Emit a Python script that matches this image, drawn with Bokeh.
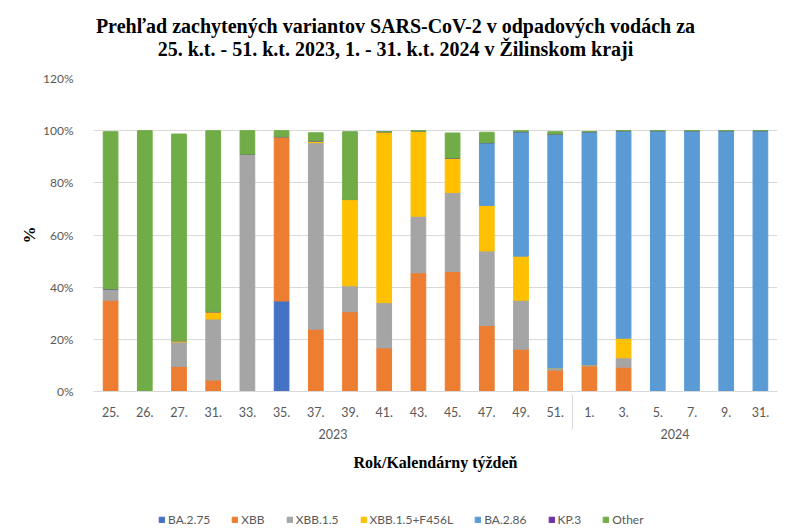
from bokeh.plotting import figure
from bokeh.layouts import column
from bokeh.models import (FactorRange, ColumnDataSource, FixedTicker, PrintfTickFormatter,
                          Legend, LegendItem, Range1d, Label)
from bokeh.embed import file_html
from bokeh.resources import INLINE

# ---- data (percent of detected variants) ----
years = ["2023"] * 14 + ["2024"] * 6
weeks = ["25.", "26.", "27.", "31.", "33.", "35.", "37.", "39.", "41.", "43.", "45.", "47.", "49.", "51.",
         "1.", "3.", "5.", "7.", "9.", "31."]
series_names = ["BA.2.75", "XBB", "XBB.1.5", "XBB.1.5+F456L", "BA.2.86", "KP.3", "Other"]
ba275 = [0, 0, 0, 0, 0, 34.7, 0, 0, 0, 0, 0, 0, 0, 0, 0, 0, 0, 0, 0, 0]
xbb = [35.0, 0, 9.6, 4.4, 0, 63.0, 23.9, 30.6, 16.7, 45.5, 46.0, 25.3, 16.2, 8.2, 9.8, 9.3, 0, 0, 0, 0]
xbb15 = [4.3, 0, 9.4, 23.4, 91.0, 0, 71.5, 9.9, 17.4, 21.7, 30.3, 28.6, 18.8, 0.8, 0.4, 3.6, 0, 0, 0, 0]
xbb15_f456l = [0, 0, 0.5, 2.8, 0, 0, 0.7, 33.1, 65.5, 32.6, 13.2, 17.4, 16.9, 0, 0, 7.5, 0, 0, 0, 0]
ba286 = [0, 0, 0, 0, 0, 0, 0, 0, 0, 0, 0, 24.1, 47.7, 89.7, 89.4, 79.6, 100, 100, 100, 100]
kp3 = [0] * 20
other = [60.3, 100, 79.2, 69.4, 9.0, 2.3, 3.1, 26.0, 0, 0.2, 9.6, 4.0, 0.4, 0.9, 0, 0, 0, 0, 0, 0]
y_ticks = [0, 20, 40, 60, 80, 100, 120]
title_lines = ["Prehľad zachytených variantov   SARS-CoV-2 v odpadových vodách za",
               "25. k.t.  - 51. k.t. 2023, 1.  - 31. k.t. 2024 v Žilinskom kraji"]

colors = ["#4472C4", "#ED7D31", "#A5A5A5", "#FFC000", "#5B9BD5", "#7030A0", "#70AD47"]

factors = list(zip(years, weeks))
keys = ["s0", "s1", "s2", "s3", "s4", "s5", "s6"]
source = ColumnDataSource(dict(x=factors, s0=ba275, s1=xbb, s2=xbb15, s3=xbb15_f456l,
                               s4=ba286, s5=kp3, s6=other))

# ---------- title strip (frame is aligned with the chart frame, left edge at 93px) ----------
tf = figure(width=800, height=66, x_range=Range1d(0, 1), y_range=Range1d(0, 1),
            output_backend="svg", toolbar_location=None, x_axis_type=None, y_axis_type=None,
            min_border=0)
tf.outline_line_color = None
tf.grid.visible = False
for txt, ypos in zip(title_lines, [41, 18]):
    tf.add_layout(Label(x=307, y=ypos, x_units="screen", y_units="screen", text=txt,
                        text_align="center", text_baseline="middle",
                        text_font="Liberation Serif", text_font_size="20px",
                        text_font_style="bold", text_color="black"))

# ---------- main chart ----------
p = figure(x_range=FactorRange(*factors, range_padding=0, group_padding=0, factor_padding=0),
           y_range=Range1d(0, 120),
           frame_width=684, frame_height=313, output_backend="svg", toolbar_location=None,
           min_border_left=93, min_border_right=23, min_border_top=12, min_border_bottom=90)

renderers = p.vbar_stack(keys, x="x", width=0.43, color=colors, source=source)

p.outline_line_color = None
p.xgrid.grid_line_color = None
p.ygrid.grid_line_color = "#d9d9d9"
p.ygrid.ticker = FixedTicker(ticks=y_ticks)

p.yaxis.ticker = FixedTicker(ticks=y_ticks)
p.yaxis.formatter = PrintfTickFormatter(format="%d%%")
p.yaxis.axis_line_color = None
p.yaxis.major_tick_line_color = None
p.yaxis.minor_tick_line_color = None
p.yaxis.major_label_text_font = "Lato"
p.yaxis.major_label_text_font_size = "12px"
p.yaxis.major_label_text_color = "#595959"
p.yaxis.major_label_standoff = 14
p.yaxis.axis_label = "%"
p.yaxis.axis_label_text_font = "Liberation Serif"
p.yaxis.axis_label_text_font_size = "17px"
p.yaxis.axis_label_text_font_style = "bold"
p.yaxis.axis_label_text_color = "black"
p.yaxis.axis_label_standoff = 1

p.xaxis.axis_line_color = "#d9d9d9"
p.xaxis.major_tick_line_color = None
p.xaxis.minor_tick_line_color = None
p.xaxis.major_label_text_font = "Lato"
p.xaxis.major_label_text_font_size = "12.5px"
p.xaxis.major_label_text_color = "#595959"
p.xaxis.major_label_standoff = 9
p.xaxis.group_text_font = "Lato"
p.xaxis.group_text_font_size = "12.5px"
p.xaxis.group_text_color = "#595959"
p.xaxis.group_text_font_style = "normal"
p.xaxis.separator_line_color = "#d9d9d9"
p.xaxis.separator_line_width = 1
p.xaxis.axis_label = "Rok/Kalendárny týždeň"
p.xaxis.axis_label_text_font = "Liberation Serif"
p.xaxis.axis_label_text_font_size = "16px"
p.xaxis.axis_label_text_font_style = "bold"
p.xaxis.axis_label_text_color = "black"
p.xaxis.axis_label_standoff = 12

# ---------- legend strip ----------
# the legend needs renderers of its own plot; the same stacked series are drawn here
# against a y-range that lies above all values, so only their legend swatches show
lf = figure(width=800, height=51, x_range=FactorRange(*factors, range_padding=0, group_padding=0,
                                                      factor_padding=0),
            y_range=Range1d(500, 501),
            output_backend="svg", toolbar_location=None, x_axis_type=None, y_axis_type=None,
            min_border=0)
lf.outline_line_color = None
lf.grid.visible = False
legend_renderers = lf.vbar_stack(keys, x="x", width=0.43, color=colors, source=source)
legend = Legend(items=[LegendItem(label=n, renderers=[r]) for n, r in zip(series_names, legend_renderers)],
                orientation="horizontal", location=(65, 5))
legend.border_line_color = None
legend.background_fill_alpha = 0
legend.glyph_width = 7
legend.glyph_height = 7
legend.label_standoff = 3
legend.spacing = 21
legend.padding = 0
legend.margin = 0
legend.label_text_font = "Lato"
legend.label_text_font_size = "12px"
legend.label_text_color = "#595959"
lf.add_layout(legend)

layout = column(tf, p, lf, spacing=0)
open("out.html", "w").write(file_html(layout, INLINE))
